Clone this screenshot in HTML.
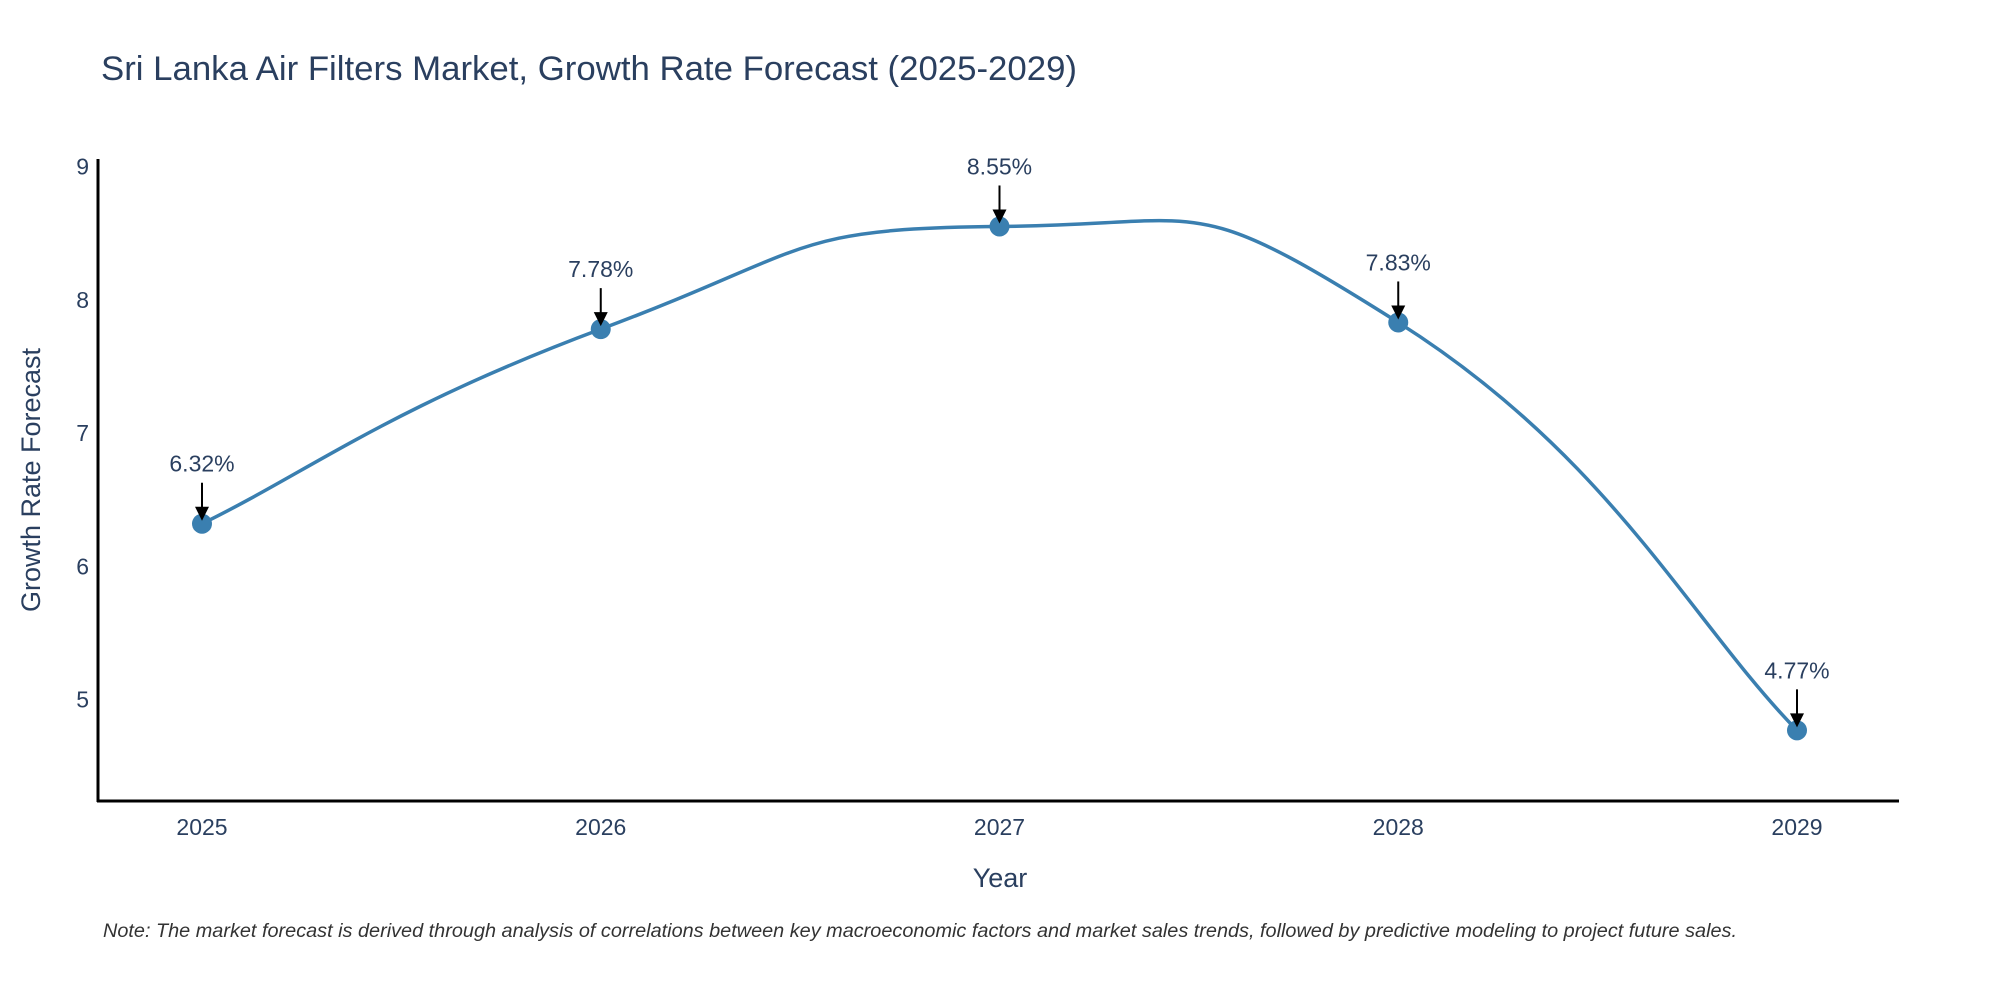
<!DOCTYPE html>
<html><head><meta charset="utf-8"><style>
body{margin:0;background:#fff;}
svg{display:block;font-family:"Liberation Sans",sans-serif;}
</style></head><body>
<svg id="chart" width="2000" height="1000" viewBox="0 0 2000 1000">
<text x="101" y="80" font-size="34" fill="#2a3f5f" textLength="976" lengthAdjust="spacingAndGlyphs">Sri Lanka Air Filters Market, Growth Rate Forecast (2025-2029)</text>
<g id="yticks"></g>
<g id="xticks"></g>
<line x1="98" y1="159" x2="98" y2="802" stroke="#000" stroke-width="3"/>
<line x1="97" y1="801" x2="1899" y2="801" stroke="#000" stroke-width="3"/>
<path id="line" fill="none" stroke="#3a7fb0" stroke-width="3.5"/>
<g id="marks"></g>
<text x="1000" y="887" font-size="27" fill="#2a3f5f" text-anchor="middle">Year</text>
<text transform="translate(40,480) rotate(-90)" font-size="27" fill="#2a3f5f" text-anchor="middle">Growth Rate Forecast</text>
<text x="103" y="937" font-size="19" font-style="italic" fill="#333" textLength="1634" lengthAdjust="spacingAndGlyphs">Note: The market forecast is derived through analysis of correlations between key macroeconomic factors and market sales trends, followed by predictive modeling to project future sales.</text>
</svg>
<script>
const years = [2025, 2026, 2027, 2028, 2029];
const values = [6.32, 7.78, 8.55, 7.83, 4.77];
const labels = ["6.32%", "7.78%", "8.55%", "7.83%", "4.77%"];
const yTicks = [5, 6, 7, 8, 9];
const NS = "http://www.w3.org/2000/svg";
const yMin = 4.24, yMax = 9.06;
function x(v){ return 202 + (v - 2025) * 398.75; }
function y(v){ return 801 - (v - yMin) * 133.3; }
function mk(tag, attrs, parent){ const e = document.createElementNS(NS, tag); for (const k in attrs) e.setAttribute(k, attrs[k]); parent.appendChild(e); return e; }
const yt = document.getElementById('yticks');
yTicks.forEach(t => {
  const e = mk('text', {x: 89, y: y(t) + 8, 'font-size': 23, fill: '#2a3f5f', 'text-anchor': 'end'}, yt);
  
  
  e.textContent = t;
});
const xt = document.getElementById('xticks');
years.forEach(t => {
  const e = mk('text', {x: x(t), y: 835, 'font-size': 23, fill: '#2a3f5f', 'text-anchor': 'middle'}, xt);
  
  
  e.textContent = t;
});
const pts = years.map((yr, i) => [x(yr), y(values[i])]);
let d = 'M' + pts[0][0] + ',' + pts[0][1];
const s = 0.8;
for (let i = 0; i < pts.length - 1; i++) {
  const p0 = pts[Math.max(i - 1, 0)], p1 = pts[i], p2 = pts[i + 1], p3 = pts[Math.min(i + 2, pts.length - 1)];
  const c1 = [p1[0] + (p2[0] - p0[0]) * s / 3, p1[1] + (p2[1] - p0[1]) * s / 3];
  const c2 = [p2[0] - (p3[0] - p1[0]) * s / 3, p2[1] - (p3[1] - p1[1]) * s / 3];
  d += ' C' + c1 + ' ' + c2 + ' ' + p2;
}
document.getElementById('line').setAttribute('d', d);
const g = document.getElementById('marks');
pts.forEach((p, i) => {
  const c = mk('circle', {cx: p[0], cy: p[1], r: 10, fill: '#3a7fb0'}, g);
  
  
  const l = mk('line', {x1: p[0], y1: p[1] - 41, x2: p[0], y2: p[1] - 14, stroke: '#000', 'stroke-width': 2}, g);
  
  
  const a = mk('polygon', {points: (p[0]-7)+','+(p[1]-17)+' '+(p[0]+7)+','+(p[1]-17)+' '+p[0]+','+(p[1]-3), fill: '#000'}, g);
  
  
  const t = mk('text', {x: p[0], y: p[1] - 52, 'font-size': 23, fill: '#2a3f5f', 'text-anchor': 'middle'}, g);
  
  
  t.textContent = labels[i];
});
</script>
</body></html>
